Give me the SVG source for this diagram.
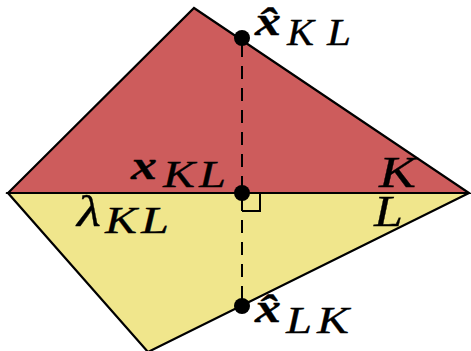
<svg xmlns="http://www.w3.org/2000/svg" width="471" height="351" viewBox="0 0 471 351">
<style>
.edge{stroke:#000;stroke-width:2.2;stroke-linejoin:miter}
.red{fill:#CD5C5C}
.yel{fill:#F0E68C}
.m{font-family:"Liberation Serif","DejaVu Serif",serif;font-style:italic;fill:#000;stroke:#000;stroke-width:0.3}
.b{font-weight:bold;font-size:42px}
.h{font-size:39px}
.s{font-size:37px}
.big{font-size:45px}
.dot{fill:#000}
</style>
<rect width="471" height="351" fill="#fff"/>
<g id="K">
<polygon points="8,193 194,8 469,193" class="edge red"/>
</g>
<g id="L">
<polygon points="8,193 469,193 148,352" class="edge yel"/>
</g>
<g id="connectors">
<line x1="242" y1="38" x2="242" y2="306" stroke="#000" stroke-width="2" stroke-dasharray="13 9" stroke-dashoffset="-6"/>
<polyline points="242,211 260,211 260,193" fill="none" stroke="#000" stroke-width="2"/>
<line x1="8" y1="193" x2="469" y2="193" stroke="#000" stroke-width="2.2"/>
</g>
<g id="points">
<circle class="dot" cx="242" cy="38" r="8"/>
<circle class="dot" cx="242" cy="193" r="8"/>
<circle class="dot" cx="242" cy="306" r="8"/>
</g>
<g id="labels">
<text class="m b h" x="255" y="35" textLength="26" lengthAdjust="spacingAndGlyphs">x̂</text>
<text class="m s" x="287" y="45" textLength="27" lengthAdjust="spacingAndGlyphs">K</text><text class="m s" x="327" y="45" textLength="24" lengthAdjust="spacingAndGlyphs">L</text>

<text class="m b" x="131" y="179" textLength="26" lengthAdjust="spacingAndGlyphs">x</text>
<text class="m s" x="163" y="187" textLength="32" lengthAdjust="spacingAndGlyphs">K</text><text class="m s" x="199" y="187" textLength="27" lengthAdjust="spacingAndGlyphs">L</text>

<text class="m big" x="77" y="226" textLength="24" lengthAdjust="spacingAndGlyphs">λ</text>
<text class="m s" x="105" y="233" textLength="32" lengthAdjust="spacingAndGlyphs">K</text><text class="m s" x="141" y="233" textLength="28" lengthAdjust="spacingAndGlyphs">L</text>

<text class="m big" x="379" y="187" textLength="37" lengthAdjust="spacingAndGlyphs">K</text>
<text class="m big" x="374" y="226" textLength="29" lengthAdjust="spacingAndGlyphs">L</text>

<text class="m b h" x="255" y="322" textLength="26" lengthAdjust="spacingAndGlyphs">x̂</text>
<text class="m s" x="286" y="333" textLength="26" lengthAdjust="spacingAndGlyphs">L</text><text class="m s" x="317" y="333" textLength="32" lengthAdjust="spacingAndGlyphs">K</text>
</g>
</svg>
